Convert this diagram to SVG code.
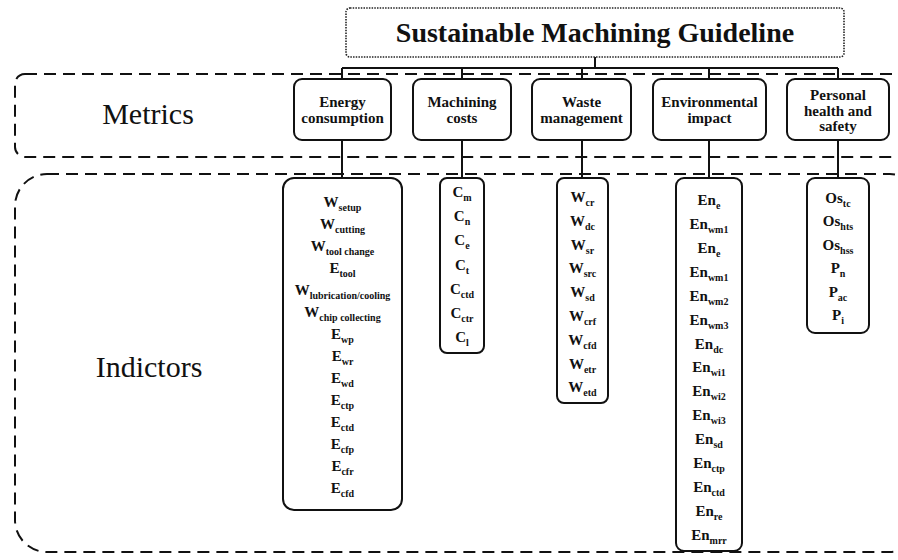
<svg xmlns="http://www.w3.org/2000/svg" width="898" height="560" viewBox="0 0 898 560">
  <style>
    .zone { fill: none; stroke: #111; stroke-width: 2; stroke-dasharray: 12 7; }
    .title-box { fill: #fff; stroke: #222; stroke-width: 1.6; stroke-dasharray: 1.5 1.2; }
    .box { fill: #fff; stroke: #111; stroke-width: 2; }
    .wire { fill: none; stroke: #111; stroke-width: 2; }
    .title { font-family: "Liberation Serif", "Times New Roman", serif; font-weight: bold; font-size: 28px; fill: #111; text-anchor: middle; }
    .zone-label { font-family: "Liberation Serif", "Times New Roman", serif; font-size: 30px; fill: #111; text-anchor: middle; }
    .metric { font-family: "Liberation Serif", "Times New Roman", serif; font-weight: bold; font-size: 15px; fill: #111; text-anchor: middle; }
    .ind { font-family: "Liberation Serif", "Times New Roman", serif; font-weight: bold; font-size: 15px; fill: #111; text-anchor: middle; }
    .sub { font-size: 10px; }
  </style>

  <!-- background zones -->
  <g id="zones">
    <rect class="zone" x="15" y="74" width="900" height="83" rx="10"/>
    <text class="zone-label" x="148" y="124">Metrics</text>
    <rect class="zone" x="15" y="174" width="907" height="378" rx="32"/>
    <text class="zone-label" x="149" y="377">Indictors</text>
  </g>

  <!-- connectors -->
  <g id="connectors">
    <path class="wire" d="M595 57 V68 M342 68 H838 M342 68 V79 M462 68 V79 M582 68 V79 M709 68 V79 M838 68 V79"/>
    <path class="wire" d="M342 140 V178 M462 140 V178 M582 140 V178 M709 140 V178 M838 140 V178"/>
  </g>

  <!-- root -->
  <g id="root">
    <rect class="title-box" x="346" y="8" width="498" height="49" rx="4"/>
    <text class="title" x="595" y="42">Sustainable Machining Guideline</text>
  </g>

  <!-- metrics -->
  <g id="metric-energy">
    <rect class="box" x="294" y="79" width="97" height="61" rx="8"/>
    <text class="metric" x="342.5" y="107">Energy</text>
    <text class="metric" x="342.5" y="123">consumption</text>
  </g>
  <g id="metric-cost">
    <rect class="box" x="413" y="79" width="98" height="61" rx="8"/>
    <text class="metric" x="462" y="107">Machining</text>
    <text class="metric" x="462" y="123">costs</text>
  </g>
  <g id="metric-waste">
    <rect class="box" x="532" y="79" width="99" height="61" rx="8"/>
    <text class="metric" x="581.5" y="107">Waste</text>
    <text class="metric" x="581.5" y="123">management</text>
  </g>
  <g id="metric-environment">
    <rect class="box" x="653" y="79" width="113" height="61" rx="8"/>
    <text class="metric" x="709.5" y="107">Environmental</text>
    <text class="metric" x="709.5" y="123">impact</text>
  </g>
  <g id="metric-health">
    <rect class="box" x="787" y="79" width="102" height="61" rx="8"/>
    <text class="metric" x="838" y="100">Personal</text>
    <text class="metric" x="838" y="115.5">health and</text>
    <text class="metric" x="838" y="131">safety</text>
  </g>

  <!-- indicators -->
  <g id="ind-energy">
    <rect class="box" x="283" y="178" width="119" height="332" rx="11"/>
    <text class="ind" x="342.5" y="207">W<tspan class="sub" dy="4">setup</tspan></text>
    <text class="ind" x="342.5" y="229">W<tspan class="sub" dy="4">cutting</tspan></text>
    <text class="ind" x="342.5" y="251">W<tspan class="sub" dy="4">tool change</tspan></text>
    <text class="ind" x="342.5" y="273">E<tspan class="sub" dy="4">tool</tspan></text>
    <text class="ind" x="342.5" y="295">W<tspan class="sub" dy="4">lubrication/cooling</tspan></text>
    <text class="ind" x="342.5" y="317">W<tspan class="sub" dy="4">chip collecting</tspan></text>
    <text class="ind" x="342.5" y="339">E<tspan class="sub" dy="4">wp</tspan></text>
    <text class="ind" x="342.5" y="361">E<tspan class="sub" dy="4">wr</tspan></text>
    <text class="ind" x="342.5" y="383">E<tspan class="sub" dy="4">wd</tspan></text>
    <text class="ind" x="342.5" y="405">E<tspan class="sub" dy="4">ctp</tspan></text>
    <text class="ind" x="342.5" y="427">E<tspan class="sub" dy="4">ctd</tspan></text>
    <text class="ind" x="342.5" y="449">E<tspan class="sub" dy="4">cfp</tspan></text>
    <text class="ind" x="342.5" y="471">E<tspan class="sub" dy="4">cfr</tspan></text>
    <text class="ind" x="342.5" y="493">E<tspan class="sub" dy="4">cfd</tspan></text>
  </g>

  <g id="ind-cost">
    <rect class="box" x="440" y="178" width="44" height="175" rx="7"/>
    <text class="ind" x="462" y="197">C<tspan class="sub" dy="4">m</tspan></text>
    <text class="ind" x="462" y="221">C<tspan class="sub" dy="4">n</tspan></text>
    <text class="ind" x="462" y="245">C<tspan class="sub" dy="4">e</tspan></text>
    <text class="ind" x="462" y="270">C<tspan class="sub" dy="4">t</tspan></text>
    <text class="ind" x="462" y="294">C<tspan class="sub" dy="4">ctd</tspan></text>
    <text class="ind" x="462" y="318">C<tspan class="sub" dy="4">ctr</tspan></text>
    <text class="ind" x="462" y="342">C<tspan class="sub" dy="4">l</tspan></text>
  </g>

  <g id="ind-waste">
    <rect class="box" x="557" y="178" width="51" height="225" rx="7"/>
    <text class="ind" x="582.5" y="202">W<tspan class="sub" dy="4">cr</tspan></text>
    <text class="ind" x="582.5" y="226">W<tspan class="sub" dy="4">dc</tspan></text>
    <text class="ind" x="582.5" y="250">W<tspan class="sub" dy="4">sr</tspan></text>
    <text class="ind" x="582.5" y="273">W<tspan class="sub" dy="4">src</tspan></text>
    <text class="ind" x="582.5" y="297">W<tspan class="sub" dy="4">sd</tspan></text>
    <text class="ind" x="582.5" y="321">W<tspan class="sub" dy="4">crf</tspan></text>
    <text class="ind" x="582.5" y="345">W<tspan class="sub" dy="4">cfd</tspan></text>
    <text class="ind" x="582.5" y="369">W<tspan class="sub" dy="4">etr</tspan></text>
    <text class="ind" x="582.5" y="392">W<tspan class="sub" dy="4">etd</tspan></text>
  </g>

  <g id="ind-environment">
    <rect class="box" x="676" y="178" width="66" height="373" rx="8"/>
    <text class="ind" x="709" y="205">En<tspan class="sub" dy="4">e</tspan></text>
    <text class="ind" x="709" y="229">En<tspan class="sub" dy="4">wm1</tspan></text>
    <text class="ind" x="709" y="253">En<tspan class="sub" dy="4">e</tspan></text>
    <text class="ind" x="709" y="277">En<tspan class="sub" dy="4">wm1</tspan></text>
    <text class="ind" x="709" y="301">En<tspan class="sub" dy="4">wm2</tspan></text>
    <text class="ind" x="709" y="325">En<tspan class="sub" dy="4">wm3</tspan></text>
    <text class="ind" x="709" y="349">En<tspan class="sub" dy="4">dc</tspan></text>
    <text class="ind" x="709" y="372">En<tspan class="sub" dy="4">wi1</tspan></text>
    <text class="ind" x="709" y="396">En<tspan class="sub" dy="4">wi2</tspan></text>
    <text class="ind" x="709" y="420">En<tspan class="sub" dy="4">wi3</tspan></text>
    <text class="ind" x="709" y="444">En<tspan class="sub" dy="4">sd</tspan></text>
    <text class="ind" x="709" y="468">En<tspan class="sub" dy="4">ctp</tspan></text>
    <text class="ind" x="709" y="492">En<tspan class="sub" dy="4">ctd</tspan></text>
    <text class="ind" x="709" y="516">En<tspan class="sub" dy="4">re</tspan></text>
    <text class="ind" x="709" y="540">En<tspan class="sub" dy="4">mrr</tspan></text>
  </g>

  <g id="ind-health">
    <rect class="box" x="807" y="178" width="62" height="155" rx="8"/>
    <text class="ind" x="838" y="203">Os<tspan class="sub" dy="4">tc</tspan></text>
    <text class="ind" x="838" y="226">Os<tspan class="sub" dy="4">hts</tspan></text>
    <text class="ind" x="838" y="250">Os<tspan class="sub" dy="4">hss</tspan></text>
    <text class="ind" x="838" y="273">P<tspan class="sub" dy="4">n</tspan></text>
    <text class="ind" x="838" y="297">P<tspan class="sub" dy="4">ac</tspan></text>
    <text class="ind" x="838" y="320">P<tspan class="sub" dy="4">i</tspan></text>
  </g>
</svg>
